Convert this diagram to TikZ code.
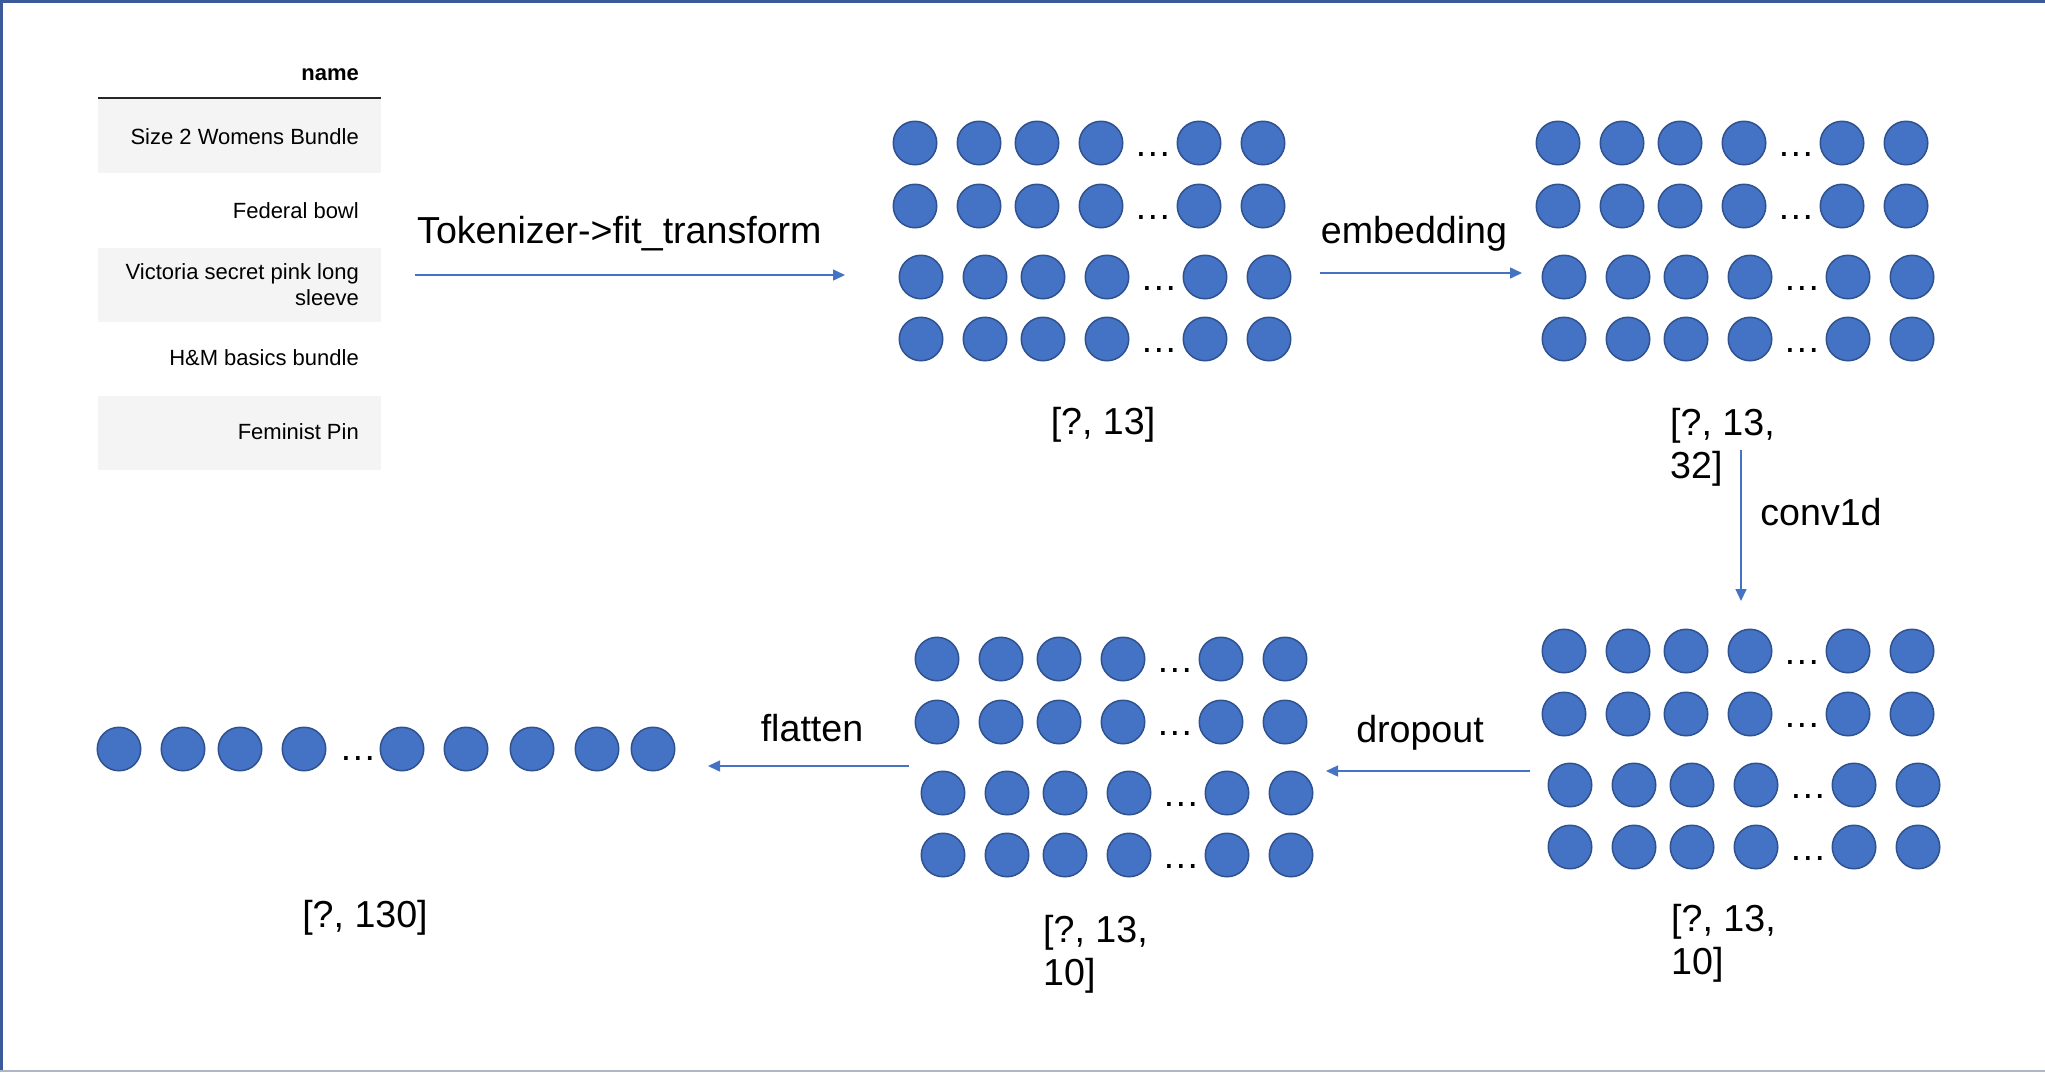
\documentclass[tikz,border=0pt]{standalone}
\usepackage{fontspec}
\setmainfont{Liberation Sans}
\usetikzlibrary{arrows.meta}
\definecolor{dotblue}{HTML}{4472C4}
\definecolor{dotedge}{HTML}{2F528F}
\definecolor{frameblue}{HTML}{3A5A9A}
\definecolor{rowgray}{HTML}{F4F4F4}
\definecolor{rulegray}{HTML}{AEB6C4}

\begin{document}
\begin{tikzpicture}[x=1pt,y=-1pt,
                    unit/.style={circle,fill=dotblue,draw=dotedge,line width=1.5pt,
                                 minimum size=43.5pt,inner sep=0pt},
                    op/.style={inner sep=0pt,font=\fontsize{37.6}{43}\selectfont},
                    ellip/.style={op,anchor=base},
                    dims/.style={op,align=left,anchor=north west},
                    cell/.style={anchor=east,inner sep=0pt,align=right,
                                 font=\fontsize{22}{26}\selectfont},
                    flow/.style={draw=dotblue,line width=1.5pt,
                                 -{Triangle[length=12pt,width=11pt]}}]
  \useasboundingbox (0,0) rectangle (2045,1072);
  \draw[frameblue,line width=3pt] (0,1.5) -- (2045,1.5);
  \draw[frameblue,line width=3pt] (1.5,0) -- (1.5,1072);
  \draw[rulegray,line width=2pt] (0,1071) -- (2045,1071);
  % input table
  \fill[rowgray] (98,98) rectangle (381,173);
  \fill[rowgray] (98,248) rectangle (381,322);
  \fill[rowgray] (98,396) rectangle (381,470);
  \draw[black!85,line width=2.5pt] (98,98) -- (381,98);
  \node[cell] (hdr) at (359,75) {\bfseries name};
  \node[cell] (item1) at (359,137) {Size 2 Womens Bundle};
  \node[cell] (item2) at (359,211) {Federal bowl};
  \node[cell] (item3) at (359,285) {Victoria secret pink long\\sleeve};
  \node[cell] (item4) at (359,358) {H\&M basics bundle};
  \node[cell] (item5) at (359,432) {Feminist Pin};
  % tensor grids
  \foreach \g/\gx/\gy in {tok/915/143,emb/1558/143,conv/1564/651,drop/937/659}{
    \foreach \r/\dy/\dx in {1/0/0,2/63/0,3/134/6,4/196/6}{
      \foreach \c/\cx in {1/0,2/64,3/122,4/186,5/284,6/348}
        \node[unit] (\g-\r-\c) at (\gx+\dx+\cx,\gy+\dy) {};
      \node[ellip] (\g-\r-dots) at (\gx+\dx+238,\gy+\dy+13) {\ldots};
    }
  }
  \foreach \x [count=\i] in {119,183,240,304,402,466,532,597,653}
    \node[unit] (flat-\i) at (\x,749) {};
  \node[ellip] (flat-dots) at (358,760) {\ldots};
  % shapes
  \node[op] (tokdim) at (1103,425) {[?, 13]};
  \node[dims] (embdim) at (1670,408) {[?, 13,\\32]};
  \node[dims] (convdim) at (1671,904) {[?, 13,\\10]};
  \node[dims] (dropdim) at (1043,915) {[?, 13,\\10]};
  \node[op] (flatdim) at (365,918) {[?, 130]};
  % layers
  \coordinate (tokA) at (415,275);  \coordinate (tokB) at (845,275);
  \coordinate (embA) at (1320,273); \coordinate (embB) at (1522,273);
  \coordinate (convA) at (1741,450); \coordinate (convB) at (1741,601);
  \coordinate (dropA) at (1530,771); \coordinate (dropB) at (1326,771);
  \coordinate (flatA) at (909,766); \coordinate (flatB) at (708,766);
  \draw[flow] (tokA) -- (tokB);
  \draw[flow] (embA) -- (embB);
  \draw[flow] (convA) -- (convB);
  \draw[flow] (dropA) -- (dropB);
  \draw[flow] (flatA) -- (flatB);
  \node[op,anchor=base west] (toklbl) at (417,243) {Tokenizer->fit\_transform};
  \node[op] (emblbl) at (1414,234) {embedding};
  \node[op] (convlbl) at (1821,512) {conv1d};
  \node[op] (droplbl) at (1420,733) {dropout};
  \node[op] (flatlbl) at (812,728) {flatten};
\end{tikzpicture}
\end{document}
